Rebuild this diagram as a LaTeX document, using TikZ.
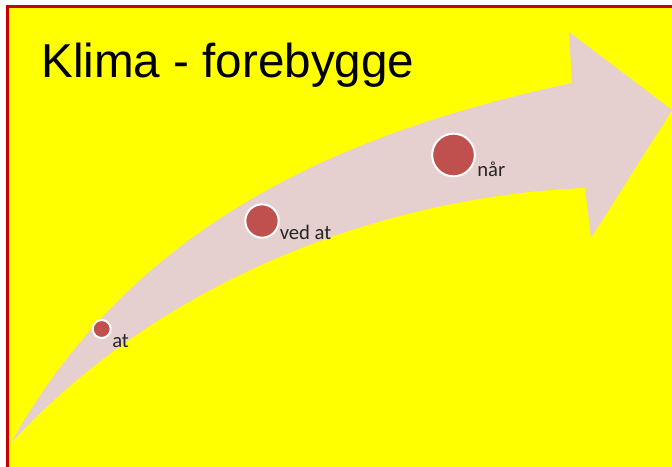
\documentclass[tikz,border=0pt]{standalone}
\usepackage{fontspec}
\newfontfamily\titlefont{Liberation Sans}
\newfontfamily\dotfont{Carlito}
\usetikzlibrary{positioning}
\definecolor{slideyellow}{RGB}{255,255,0}
\definecolor{framered}{RGB}{200,0,0}
\definecolor{arrowpink}{RGB}{230,207,207}
\definecolor{dotred}{RGB}{192,80,77}
\definecolor{dottext}{RGB}{38,38,38}
\tikzset{
  dot/.style={circle, fill=dotred, draw=white, line width=1.5pt, inner sep=0pt},
  dotlabel/.style={font=\dotfont\fontsize{15.5}{18}\selectfont, text=dottext, inner sep=0pt, anchor=base west}
}

\begin{document}
\begin{tikzpicture}[x=0.75pt,y=-0.75pt]
\useasboundingbox (0,0) rectangle (672,467);
\fill[white] (0,0) rectangle (672,467);
% slide
\fill[slideyellow] (7.5,6.5) rectangle (672,467);
\draw[framered, line width=1.9pt] (7.5,467) -- (7.5,6.5) -- (672,6.5);
% title
\node[font=\titlefont\fontsize{35.7}{40}\selectfont, inner sep=0pt, anchor=base west] (title) at (41,77.3) {Klima - forebygge};
% curved arrow
\fill[arrowpink] (11,443) .. controls (130,230) and (330,135) .. (572,83)
  -- (569,32) -- (672,110) -- (591,238) -- (585,188)
  .. controls (400,195) and (170,270) .. (11,443) -- cycle;
% steps
\node[dot, minimum size=13.5pt] (dotat) at (101.7,329) {};
\node[dot, minimum size=25pt] (dotved) at (262,221) {};
\node[dot, minimum size=32pt] (dotnaar) at (453.5,155) {};
\node[dotlabel] (lblat) at (112,347) {at};
\node[dotlabel] (lblved) at (279.5,239) {ved at};
\node[dotlabel] (lblnaar) at (477,176.5) {når};
\end{tikzpicture}
\end{document}
